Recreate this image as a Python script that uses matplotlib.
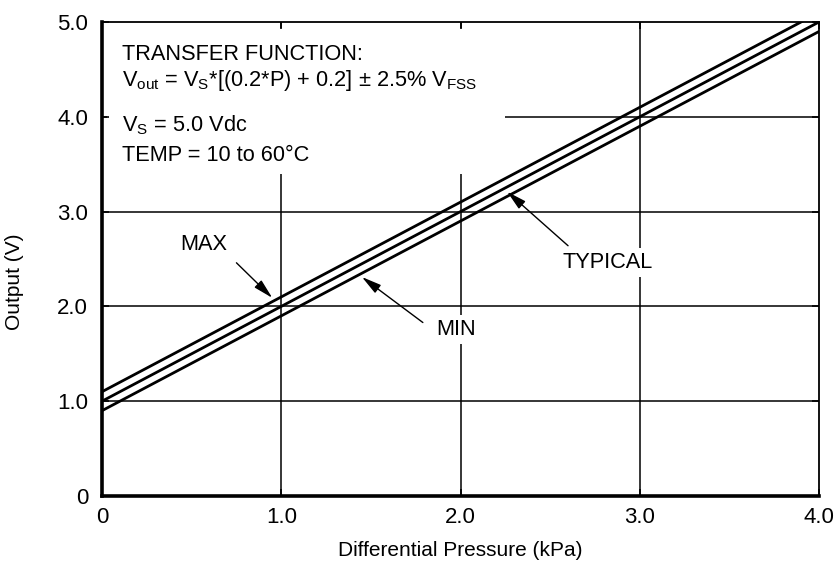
import matplotlib
matplotlib.use("Agg")
import matplotlib.pyplot as plt
from matplotlib.patches import Rectangle

plt.rcParams['font.family'] = ['Liberation Sans', 'DejaVu Sans']
plt.rcParams['mathtext.fontset'] = 'custom'
plt.rcParams['mathtext.rm'] = 'Liberation Sans'
plt.rcParams['mathtext.it'] = 'Liberation Sans'

# values
pressure = [0.0, 4.0]                 # kPa
out_max = [1.1, 5.1]                  # V
out_typ = [1.0, 5.0]
out_min = [0.9, 4.9]

x_ticks = [0, 1.0, 2.0, 3.0, 4.0]
x_labels = ["0", "1.0", "2.0", "3.0", "4.0"]
y_ticks = [0, 1.0, 2.0, 3.0, 4.0, 5.0]
y_labels = ["0", "1.0", "2.0", "3.0", "4.0", "5.0"]

# label text, point it sits at, point the arrow hits, arrow tail
callouts = [
    ("MAX", (0.57, 2.65), (0.95, 2.09), (0.75, 2.46)),
    ("MIN", (1.975, 1.76), (1.45, 2.31), (1.79, 1.83)),
    ("TYPICAL", (2.82, 2.46), (2.26, 3.21), (2.60, 2.64)),
]

fig = plt.figure(figsize=(8.39, 5.76), dpi=100)
ax = fig.add_axes([102/839, 80/576, 717/839, 474/576])

ax.set_xlim(0, 4.0)
ax.set_ylim(0, 5.0)

# grid drawn by hand so the text block can sit on top of it
for xv in x_ticks[1:-1]:
    ax.axvline(xv, color='black', lw=1.1, zorder=1)
for yv in y_ticks[1:-1]:
    ax.axhline(yv, color='black', lw=1.1, zorder=1)

# white area behind the transfer function text
ax.add_patch(Rectangle((0.03, 3.40), 2.22, 1.54, facecolor='white',
                       edgecolor='none', zorder=1.5))

for ys in (out_max, out_typ, out_min):
    ax.plot(pressure, ys, color='black', lw=2.0, zorder=2)

fs = 15.7
tx = 0.11
ax.text(tx, 4.60, "TRANSFER FUNCTION:", fontsize=fs, va='baseline', zorder=3)
ax.text(tx, 4.325, r"V$_{\mathrm{out}}$ = V$_{\mathrm{S}}$*[(0.2*P) + 0.2] ± 2.5% V$_{\mathrm{FSS}}$",
        fontsize=fs, va='baseline', zorder=3)
ax.text(tx, 3.85, r"V$_{\mathrm{S}}$ = 5.0 Vdc", fontsize=fs, va='baseline', zorder=3)
ax.text(tx, 3.53, "TEMP = 10 to 60°C", fontsize=fs, va='baseline', zorder=3)

for label, pos, tip, tail in callouts:
    ax.annotate("", xy=tip, xytext=tail,
                arrowprops=dict(arrowstyle='-|>,head_length=0.6,head_width=0.15',
                                color='black', lw=1, mutation_scale=20,
                                shrinkA=0, shrinkB=0), zorder=3)
    ax.text(pos[0], pos[1], label, fontsize=fs, ha='center', va='center',
            bbox=dict(facecolor='white', edgecolor='none', pad=3), zorder=3)

ax.set_xticks(x_ticks)
ax.set_xticklabels(x_labels)
ax.set_yticks(y_ticks)
ax.set_yticklabels(y_labels)
ax.tick_params(direction='in', length=5, width=1.2, top=True, right=True,
               labelsize=16, colors='black')
ax.tick_params(axis='y', pad=10)
ax.tick_params(axis='x', pad=8)

ax.spines['left'].set_linewidth(2.6)
ax.spines['bottom'].set_linewidth(2.6)
ax.spines['top'].set_linewidth(1.3)
ax.spines['right'].set_linewidth(1.3)

ax.set_xlabel("Differential Pressure (kPa)", fontsize=15, labelpad=9)
ax.set_ylabel("Output (V)", fontsize=15)
ax.yaxis.set_label_coords(-0.109, 0.451)

fig.savefig("out.png", dpi=100)
